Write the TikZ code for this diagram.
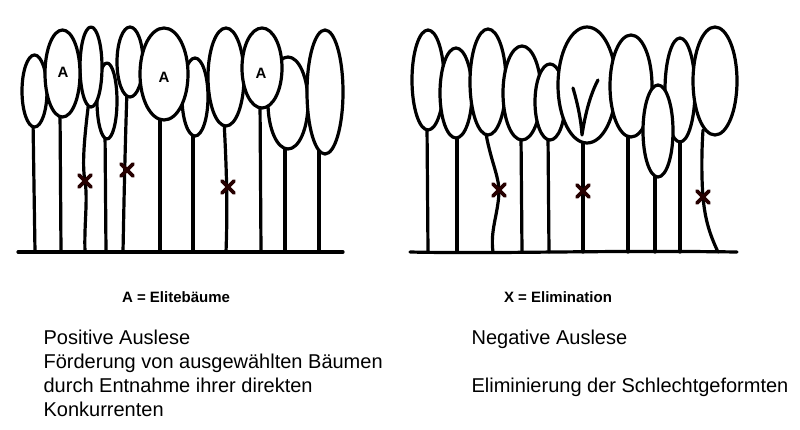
\documentclass[tikz,border=0pt]{standalone}
\usepackage{fontspec}
\setmainfont{Liberation Sans}
\begin{document}
\begin{tikzpicture}[x=1pt,y=-1pt,line width=3.2pt,line cap=round,line join=round,
 crown/.style={draw=black,fill=white},
 trunk/.style={draw=black},
 xmark/.style={line width=3.6pt,draw=black!85!red},
 lbl/.style={font=\bfseries\fontsize{15}{17}\selectfont,inner sep=0},
 txt/.style={font=\fontsize{20}{24}\selectfont,inner sep=0,anchor=north west,align=left}]
\useasboundingbox (0,0) rectangle (800,429);
\newcommand{\xm}[2]{\draw[xmark] (#1-6,#2-6) -- (#1+6,#2+6) (#1-6,#2+6) -- (#1+6,#2-6);}
% ---------- left panel ----------
\draw[trunk] (33,120) -- (35,252);
\draw[trunk] (60,110) -- (61,252);
\draw[trunk] (89,100) .. controls (84,140) and (82,165) .. (85,181) .. controls (88,200) and (84,225) .. (85,252);
\draw[trunk] (105,130) -- (106,252);
\draw[trunk] (127,90) .. controls (125,150) and (124,200) .. (123,252);
\draw[trunk] (160,110) -- (160,252);
\draw[trunk] (193,130) -- (193,252);
\draw[trunk] (224,120) .. controls (226,160) and (228,200) .. (226,252);
\draw[trunk] (260,100) -- (261,252);
\draw[trunk] (285,140) -- (285,252);
\draw[trunk] (319,145) -- (319,252);
\path[crown] (34.5,91) ellipse[x radius=12.5,y radius=36];
\path[crown] (107,101) ellipse[x radius=10,y radius=38];
\path[crown] (91,67) ellipse[x radius=11,y radius=40];
\path[crown] (195,97) ellipse[x radius=13,y radius=39];
\path[crown] (288,103) ellipse[x radius=20,y radius=46];
\path[crown] (325,92) ellipse[x radius=18,y radius=62];
\path[crown] (130,62) ellipse[x radius=13,y radius=35];
\path[crown] (62.5,73.5) ellipse[x radius=17.5,y radius=43.5];
\path[crown] (226,77) ellipse[x radius=18,y radius=49];
\path[crown] (164,74) ellipse[x radius=24,y radius=46];
\path[crown] (262,68) ellipse[x radius=20,y radius=40];
\node[lbl] (a1) at (63,72) {A};
\node[lbl] (a2) at (164,77) {A};
\node[lbl] (a3) at (261,73) {A};
\xm{85}{181}\xm{127}{170}\xm{228}{187}
\draw (18,252) -- (343,252);
% ---------- right panel ----------
\draw[trunk] (427,125) -- (428,252);
\draw[trunk] (457,132) -- (457,252);
\draw[trunk] (485,128) .. controls (490,160) and (499,175) .. (499,192) .. controls (498,215) and (490,230) .. (493,252);
\draw[trunk] (521,135) -- (522,252);
\draw[trunk] (548,135) -- (549,252);
\draw[trunk] (628,130) -- (628,252);
\draw[trunk] (655,170) -- (655,252);
\draw[trunk] (680,138) -- (680,252);
\draw[trunk] (703,130) .. controls (701,160) and (702,185) .. (703,197) .. controls (705,220) and (710,235) .. (718,252);
\path[crown] (428,80) ellipse[x radius=16,y radius=50];
\path[crown] (456,93) ellipse[x radius=16,y radius=45];
\path[crown] (488,82) ellipse[x radius=18,y radius=53];
\path[crown] (522,93) ellipse[x radius=19,y radius=47];
\path[crown] (550,102) ellipse[x radius=15,y radius=38];
\path[crown] (587,85) ellipse[x radius=29,y radius=58];
\path[crown] (631,86) ellipse[x radius=21,y radius=51];
\path[crown] (680,90) ellipse[x radius=15,y radius=52];
\path[crown] (658,131) ellipse[x radius=15,y radius=46];
\path[crown] (715,81) ellipse[x radius=22,y radius=54];
\draw[trunk] (583,143) -- (583,252);
\draw[trunk] (573,88) .. controls (578,105) and (581,120) .. (582,135) .. controls (585,115) and (590,95) .. (598,80);
\xm{499}{190}\xm{583}{191}\xm{703}{197}
\draw (410,252) .. controls (500,254) and (600,250) .. (737,252);
% ---------- labels ----------
\node[lbl] (la) at (176,297) {A = Elitebäume};
\node[lbl] (lx) at (558,297) {X = Elimination};
\node[txt] (tl) at (42,328) {Positive Auslese\\Förderung von ausgewählten Bäumen\\durch Entnahme ihrer direkten\\Konkurrenten};
\node[txt] (tr1) at (470,328) {Negative Auslese};
\node[txt] (tr2) at (470,376) {Eliminierung der Schlechtgeformten};
\end{tikzpicture}
\end{document}
